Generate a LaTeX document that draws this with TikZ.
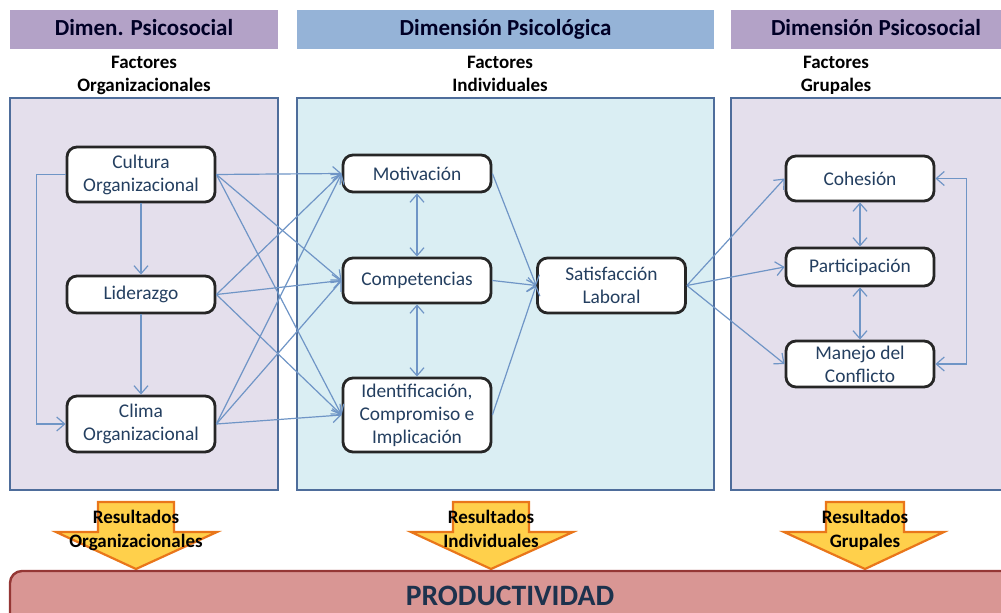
\documentclass[tikz,border=0pt]{standalone}
\usepackage{fontspec}
\setmainfont{Carlito}
\usetikzlibrary{arrows.meta}

\definecolor{hdrpurple}{HTML}{B3A2C7}
\definecolor{hdrblue}{HTML}{95B3D7}
\definecolor{panellav}{HTML}{E4DFEC}
\definecolor{panelcyan}{HTML}{DAEEF3}
\definecolor{panelline}{HTML}{4E6D9B}
\definecolor{connblue}{HTML}{6F95C6}
\definecolor{boxline}{HTML}{262626}
\definecolor{nodetext}{HTML}{243F60}
\definecolor{arrowfill}{HTML}{FFD04B}
\definecolor{arrowline}{HTML}{E9761A}
\definecolor{prodfill}{HTML}{D99694}
\definecolor{prodline}{HTML}{953735}

\begin{document}
\begin{tikzpicture}[x=0.5pt,y=-0.5pt,>={Straight Barb[length=4pt,width=7pt]},
  header/.style={fill=#1,minimum height=19.5pt,inner sep=0pt,text height=8.2pt,text depth=2.6pt,text=black!85!blue,font=\bfseries\fontsize{11.5}{13}\selectfont},
  subtitle/.style={align=center,inner sep=0pt,anchor=north,font=\bfseries\fontsize{9.5}{11.5}\selectfont},
  panel/.style={draw=panelline,line width=1.4pt,fill=#1},
  box/.style={draw=boxline,line width=1.4pt,rounded corners=5pt,fill=white,minimum width=74pt,inner sep=1pt,align=center,text=nodetext,font=\fontsize{9.7}{11.5}\selectfont},
  conn/.style={draw=connblue,line width=0.6pt},
  result/.style={align=center,inner sep=0pt,anchor=north,font=\bfseries\fontsize{9.5}{12}\selectfont},
  downarrow/.style={draw=arrowline,line width=1.1pt,fill=arrowfill}]
  \clip (0,0) rectangle (1001,613);

  % headers
  \node[header=hdrpurple,minimum width=134pt] (h1) at (144,29.5) {Dimen. Psicosocial};
  \node[header=hdrblue,minimum width=208.5pt] (h2) at (505.5,29.5) {Dimensión Psicológica};
  \node[header=hdrpurple,minimum width=145pt] (h3) at (876,29.5) {Dimensión Psicosocial};

  \node[subtitle] (f1) at (144,56) {Factores\\Organizacionales};
  \node[subtitle] (f2) at (500,56) {Factores\\Individuales};
  \node[subtitle] (f3) at (836,56) {Factores\\Grupales};

  % panels
  \draw[panel=panellav] (10,98) rectangle (278,490);
  \draw[panel=panelcyan] (297,98) rectangle (714,490);
  \draw[panel=panellav] (731,98) rectangle (1012,490);

  % organizacionales
  \node[box,minimum height=27.5pt] (cult) at (141,174.5) {Cultura\\Organizacional};
  \node[box,minimum height=18.5pt] (lider) at (141,294.5) {Liderazgo};
  \node[box,minimum height=28pt] (clima) at (141,424) {Clima\\Organizacional};

  % individuales
  \node[box,minimum height=18.5pt] (motiv) at (417,173.5) {Motivación};
  \node[box,minimum height=22.5pt] (compet) at (417,280.5) {Competencias};
  \node[box,minimum height=37pt] (ident) at (417,415) {Identificación,\\Compromiso e\\Implicación};
  \node[box,minimum height=27.5pt] (satis) at (611.5,285.5) {Satisfacción\\Laboral};

  % grupales
  \node[box,minimum height=22.5pt] (cohes) at (860,178.5) {Cohesión};
  \node[box,minimum height=19pt] (partic) at (860,267) {Participación};
  \node[box,minimum height=23pt] (manejo) at (860,364) {Manejo del\\Conflicto};

  \draw[conn,->] (cult) -- (lider);
  \draw[conn,->] (lider) -- (clima);
  \draw[conn,->] (cult.west) -- ++(-29,0) |- (clima.west);

  \draw[conn,->] (cult.east) -- (motiv.west);
  \draw[conn,->] (cult.east) -- (compet.west);
  \draw[conn,->] (cult.east) -- (ident.west);
  \draw[conn,->] (lider.east) -- (motiv.west);
  \draw[conn,->] (lider.east) -- (compet.west);
  \draw[conn,->] (lider.east) -- (ident.west);
  \draw[conn,->] (clima.east) -- (motiv.west);
  \draw[conn,->] (clima.east) -- (compet.west);
  \draw[conn,->] (clima.east) -- (ident.west);

  \draw[conn,<->] (motiv) -- (compet);
  \draw[conn,<->] (compet) -- (ident);
  \draw[conn,->] (motiv.east) -- (satis.west);
  \draw[conn,->] (compet.east) -- (satis.west);
  \draw[conn,->] (ident.east) -- (satis.west);

  \draw[conn,->] (satis.east) -- (cohes.west);
  \draw[conn,->] (satis.east) -- (partic.west);
  \draw[conn,->] (satis.east) -- (manejo.west);
  \draw[conn,<->] (cohes) -- (partic);
  \draw[conn,<->] (partic) -- (manejo);
  \draw[conn,<->] (cohes.east) -- ++(31,0) |- (manejo.east);

  % resultados
  \draw[downarrow] (98,502) -- (174,502) -- (174,532) -- (217,532) -- (136,569)
    -- (56,532) -- (98,532) -- cycle;
  \draw[downarrow] (453,502) -- (529,502) -- (529,532) -- (573,532) -- (491,569)
    -- (411,532) -- (453,532) -- cycle;
  \draw[downarrow] (826,502) -- (904,502) -- (904,532) -- (944,532) -- (865,569)
    -- (784,532) -- (826,532) -- cycle;
  \node[result] (r1) at (136,510) {Resultados\\Organizacionales};
  \node[result] (r2) at (491,510) {Resultados\\Individuales};
  \node[result] (r3) at (865,510) {Resultados\\Grupales};

  % productividad
  \draw[draw=prodline,line width=1.2pt,fill=prodfill,rounded corners=6pt] (10,571) rectangle (1014,640);
  \node[text=nodetext!80!black,font=\bfseries\fontsize{14.8}{16}\selectfont] (prod) at (510,596) {PRODUCTIVIDAD};
\end{tikzpicture}
\end{document}
